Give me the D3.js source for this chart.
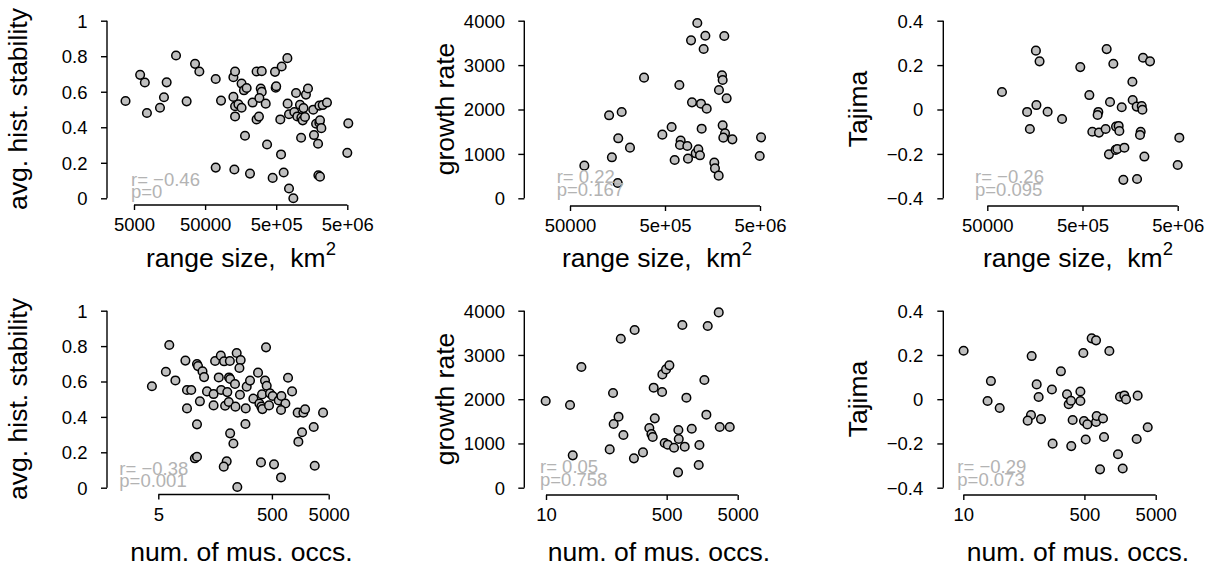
<!DOCTYPE html>
<html><head><meta charset="utf-8">
<script src="https://cdn.jsdelivr.net/npm/d3@7"></script>
<style>
body{margin:0;background:#fff}
text{font-family:"Liberation Sans",Arial,Helvetica,sans-serif}
</style>
</head><body>
<svg id="chart" width="1213" height="572"></svg>
<script>
// ---------- DATA ----------
// Panel 1: range size (km2) vs avg. hist. stability
const p1_x = [3800,6100,7100,7600,14400,13200,11600,19500,27500,36100,41500,70500,83800,70500,125000,132000,125000,132000,132000,147000,163000,163000,176000,192000,182000,129000,214000,233000,265000,313000,303000,313000,290000,265000,286000,356000,372000,446000,481000,492000,500000,585000,571000,597000,718000,637000,757000,871000,724000,757000,951000,899000,991000,1080000,1130000,1210000,1180000,1270000,1120000,1310000,1400000,1660000,1700000,1940000,1820000,2023000,2065000,2158000,2023000,2254000,2588000,1959000,2065000,5164000,5000000];
const p1_y = [0.548,0.695,0.652,0.480,0.653,0.569,0.510,0.804,0.546,0.757,0.714,0.672,0.550,0.173,0.682,0.714,0.571,0.518,0.461,0.529,0.510,0.646,0.608,0.621,0.352,0.162,0.139,0.539,0.714,0.716,0.618,0.599,0.565,0.444,0.460,0.533,0.303,0.115,0.712,0.623,0.631,0.247,0.444,0.742,0.789,0.145,0.055,0.000,0.533,0.473,0.593,0.486,0.461,0.527,0.454,0.508,0.439,0.458,0.341,0.584,0.618,0.499,0.356,0.307,0.420,0.426,0.439,0.395,0.522,0.525,0.539,0.130,0.122,0.422,0.256];
// Panel 2: range size vs growth rate
const p2_x = [70800,129000,175000,161000,138000,159000,214000,301000,469000,587000,708000,632000,731000,719000,859000,873000,962000,940000,1094000,1330000,1276000,1197000,1374000,1216000,1052000,1122000,1167000,1652000,1679000,1837000,1849000,1991000,2023000,2104000,2228000,2023000,2143000,2056000,2559000,5129000,4966000];
const p2_y = [735,1869,1944,1351,923,345,1141,2717,1433,1606,2552,863,1298,1201,1178,893,2161,3557,3948,3662,3362,2131,2019,1568,1013,1103,968,803,675,510,2439,2769,2664,3655,2252,1644,1463,1366,1328,1373,953];
// Panel 3: range size vs Tajima
const p3_x = [71300,131000,140000,164000,162000,177000,215000,305000,474000,590000,634000,733000,721000,745000,875000,897000,973000,1054000,948000,1114000,1161000,1377000,1125000,1199000,1219000,1291000,1343000,1671000,1683000,1854000,2094000,2128000,2042000,2009000,2234000,1871000,2163000,2559000,5200000,5000000];
const p3_y = [0.079,-0.011,-0.088,0.020,0.265,0.217,-0.010,-0.043,0.191,0.065,-0.100,-0.011,-0.025,-0.104,-0.088,0.272,0.034,0.206,-0.202,-0.182,-0.178,-0.172,-0.077,-0.074,-0.097,0.010,-0.317,0.125,0.043,0.013,0.016,-0.001,-0.100,-0.115,-0.212,-0.313,0.233,0.217,-0.127,-0.250];
// Panel 4: num. of mus. occs. vs avg. hist. stability
const p4_x = [3.86,7.8,6.8,10,15,16,19,16,24,22,24,24,25,30,32,27,36,47,47,50,63,72,91,58,64,82,88,92,75,87,120,141,134,112,114,137,92,105,80,71,123,173,171,180,206,236,285,301,326,340,335,378,405,394,463,445,516,659,735,863,724,962,1132,321,545,724,1422,1791,1919,1698,1462,2723,2838,3981];
const p4_y = [0.573,0.806,0.655,0.606,0.718,0.552,0.552,0.448,0.358,0.166,0.175,0.699,0.687,0.657,0.625,0.488,0.544,0.529,0.465,0.716,0.746,0.714,0.716,0.623,0.552,0.540,0.623,0.614,0.463,0.484,0.761,0.721,0.676,0.586,0.458,0.525,0.307,0.250,0.149,0.119,0.004,0.448,0.360,0.571,0.605,0.503,0.650,0.476,0.458,0.444,0.527,0.605,0.576,0.793,0.533,0.465,0.518,0.493,0.518,0.476,0.439,0.621,0.544,0.143,0.132,0.058,0.424,0.424,0.443,0.313,0.260,0.343,0.124,0.424];
// Panel 5: num. of mus. occs. vs growth rate
const p5_x = [9.9,21.8,23.8,31.5,78.9,87.9,89.7,105,123,113,177,173,232,285,305,318,328,340,431,435,490,546,469,518,635,731,740,723,832,897,948,1127,1445,1413,1698,1811,1892,2704,2793,3864];
const p5_y = [1959,1868,731,2727,866,2139,1439,1605,1190,3367,3563,663,798,1348,1213,1145,2260,1567,2162,2561,2674,2765,1009,972,904,1303,1100,347,3676,927,2034,1333,964,512,2433,1650,3654,3962,1371,1371];
// Panel 6: num. of mus. occs. vs Tajima
const p6_x = [10.1,24.4,21.9,32.4,91,107,114,89,80,123,175,179,234,285,301,324,342,327,439,439,483,493,550,521,632,728,728,743,912,942,828,1119,1578,1816,1919,1479,1722,2793,2704,3864];
const p6_y = [0.219,0.082,-0.008,-0.040,0.195,0.067,0.010,-0.072,-0.097,-0.090,0.044,-0.201,0.126,0.022,-0.023,-0.007,-0.094,-0.212,0.035,-0.008,0.209,-0.099,-0.114,-0.182,0.275,0.266,-0.103,-0.076,-0.087,-0.171,-0.317,0.218,0.011,0.017,-0.001,-0.249,-0.313,0.016,-0.180,-0.127];

// Tick values and labels
const xTicksRangeA = [5000,50000,500000,5000000];
const xLabelsRangeA = ["5000","50000","5e+05","5e+06"];
const xTicksRangeB = [50000,500000,5000000];
const xLabelsRangeB = ["50000","5e+05","5e+06"];
const xTicksOccA = [5,500,5000];
const xLabelsOccA = ["5","500","5000"];
const xTicksOccB = [10,500,5000];
const xLabelsOccB = ["10","500","5000"];
const yTicksStab = [0,0.2,0.4,0.6,0.8,1];
const yLabelsStab = ["0","0.2","0.4","0.6","0.8","1"];
const yTicksGrowth = [0,1000,2000,3000,4000];
const yLabelsGrowth = ["0","1000","2000","3000","4000"];
const yTicksTaj = [-0.4,-0.2,0,0.2,0.4];
const yLabelsTaj = ["\u22120.4","\u22120.2","0","0.2","0.4"];

const yTitles = ["avg. hist. stability","growth rate","Tajima"];
const statR = ["r= \u22120.46","r= 0.22","r= \u22120.26","r= \u22120.38","r= 0.05","r= \u22120.29"];
const statP = ["p=0","p=0.167","p=0.095","p=0.001","p=0.758","p=0.073"];

// ---------- LAYOUT ----------
const panels = [
  {x:p1_x,y:p1_y,xt:xTicksRangeA,xl:xLabelsRangeA,yt:yTicksStab,yl:yLabelsStab,yTitle:yTitles[0],kind:"range",
   g:{yAx:107,yB:198.3,yT:20.7,xAx:205,xL:134,xR:347.3,ylR:87.5,ytX:27,ytY:109,xtX:241,xtY:266.7,sX:131,sY:185.5}},
  {x:p2_x,y:p2_y,xt:xTicksRangeB,xl:xLabelsRangeB,yt:yTicksGrowth,yl:yLabelsGrowth,yTitle:yTitles[1],kind:"range",
   g:{yAx:524.3,yB:198.3,yT:20.7,xAx:206,xL:570,xR:760,ylR:505,ytX:454,ytY:109,xtX:657,xtY:266.7,sX:556.7,sY:183.3}},
  {x:p3_x,y:p3_y,xt:xTicksRangeB,xl:xLabelsRangeB,yt:yTicksTaj,yl:yLabelsTaj,yTitle:yTitles[2],kind:"range",
   g:{yAx:943.3,yB:198.3,yT:20.7,xAx:206,xL:987.3,xR:1177.7,ylR:923.3,ytX:867,ytY:109,xtX:1078,xtY:266.7,sX:975,sY:183}},
  {x:p4_x,y:p4_y,xt:xTicksOccA,xl:xLabelsOccA,yt:yTicksStab,yl:yLabelsStab,yTitle:yTitles[0],kind:"occ",
   g:{yAx:107,yB:487.7,yT:310.7,xAx:494.5,xL:158.3,xR:328.7,ylR:87.5,ytX:27,ytY:399,xtX:241.5,xtY:560.7,sX:119.3,sY:474.5}},
  {x:p5_x,y:p5_y,xt:xTicksOccB,xl:xLabelsOccB,yt:yTicksGrowth,yl:yLabelsGrowth,yTitle:yTitles[1],kind:"occ",
   g:{yAx:524.3,yB:487.7,yT:310.7,xAx:495,xL:546,xR:737.7,ylR:505,ytX:454,ytY:399,xtX:659,xtY:560.7,sX:540,sY:473}},
  {x:p6_x,y:p6_y,xt:xTicksOccB,xl:xLabelsOccB,yt:yTicksTaj,yl:yLabelsTaj,yTitle:yTitles[2],kind:"occ",
   g:{yAx:943.3,yB:487.7,yT:310.7,xAx:495,xL:963.3,xR:1155.7,ylR:923.3,ytX:867,ytY:399,xtX:1078,xtY:560.7,sX:957.3,sY:473}}
];

const svg = d3.select("#chart");
svg.append("rect").attr("width",1213).attr("height",572).attr("fill","#fff");

const TICK_FS = 18.5, TITLE_FS = 26.5;

panels.forEach((P,i)=>{
  const g = P.g;
  const xs = d3.scaleLog().domain([P.xt[0], P.xt[P.xt.length-1]]).range([g.xL, g.xR]);
  const ys = d3.scaleLinear().domain([P.yt[0], P.yt[P.yt.length-1]]).range([g.yB, g.yT]);
  const grp = svg.append("g");

  // y axis
  const yAxis = grp.append("g").attr("transform",`translate(${g.yAx},0)`)
    .call(d3.axisLeft(ys).tickValues(P.yt).tickFormat((d,k)=>P.yl[k]).tickSize(6).tickSizeOuter(0));
  yAxis.select(".domain").attr("stroke","#000").attr("stroke-width",1.4).attr("d",`M0,${ys(P.yt[0])}V${ys(P.yt[P.yt.length-1])}`);
  yAxis.selectAll(".tick line").attr("stroke","#000").attr("stroke-width",1.4);
  yAxis.selectAll(".tick text").attr("font-size",TICK_FS).attr("fill","#000")
    .attr("font-family",'"Liberation Sans",Arial,sans-serif')
    .attr("x", g.ylR - g.yAx).attr("text-anchor","end").attr("dy","0.35em");

  // x axis
  const xAxis = grp.append("g").attr("transform",`translate(0,${g.xAx})`)
    .call(d3.axisBottom(xs).tickValues(P.xt).tickFormat((d,k)=>P.xl[k]).tickSize(5).tickSizeOuter(0));
  xAxis.select(".domain").attr("stroke","#000").attr("stroke-width",1.4).attr("d",`M${xs(P.xt[0])},0H${xs(P.xt[P.xt.length-1])}`);
  xAxis.selectAll(".tick line").attr("stroke","#000").attr("stroke-width",1.4);
  xAxis.selectAll(".tick text").attr("font-size",TICK_FS).attr("fill","#000")
    .attr("font-family",'"Liberation Sans",Arial,sans-serif')
    .attr("y",26).attr("dy",0);

  // points
  grp.append("g").selectAll("circle").data(P.x.map((v,k)=>[v,P.y[k]])).join("circle")
    .attr("cx",d=>xs(d[0])).attr("cy",d=>ys(d[1])).attr("r",4.3)
    .attr("fill","#bfbfbf").attr("stroke","#000").attr("stroke-width",1.5);

  // stats text
  grp.append("text").attr("x",g.sX).attr("y",g.sY).attr("font-size",TICK_FS).attr("fill","#b3b3b3").text(statR[i]);
  grp.append("text").attr("x",g.sX).attr("y",g.sY+12.5).attr("font-size",TICK_FS).attr("fill","#b3b3b3").text(statP[i]);

  // y title
  grp.append("text").attr("transform",`translate(${g.ytX},${g.ytY}) rotate(-90)`)
    .attr("text-anchor","middle").attr("font-size",TITLE_FS).attr("fill","#000").text(P.yTitle);

  // x title
  const xt = grp.append("text").attr("x",g.xtX).attr("y",g.xtY).attr("text-anchor","middle")
    .attr("font-size",TITLE_FS).attr("fill","#000");
  if (P.kind==="range"){
    xt.append("tspan").text("range size,\u00a0 km");
    xt.append("tspan").attr("font-size",18.5).attr("dy",-12).text("2");
  } else {
    xt.text("num. of mus. occs.");
  }
});
</script>
</body></html>
